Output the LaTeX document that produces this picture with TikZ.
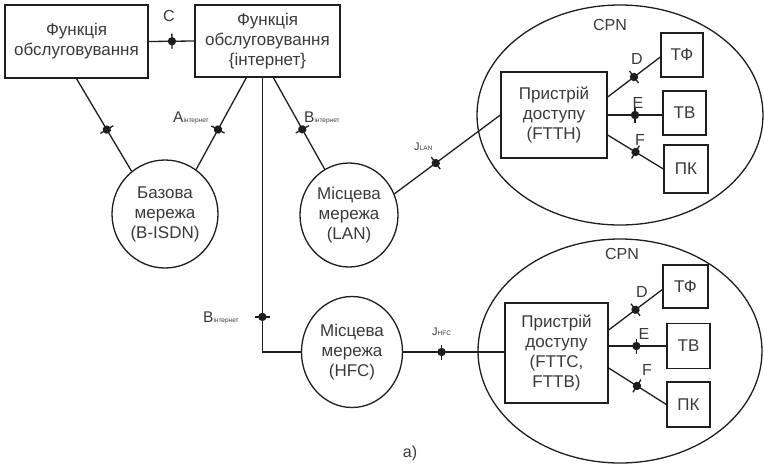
\documentclass[tikz,border=0pt]{standalone}
\usepackage{fontspec}
\setmainfont{Liberation Sans}
\usetikzlibrary{shapes.geometric,calc}
\definecolor{ink}{HTML}{1E1E1E}
\definecolor{txt}{HTML}{3A3A3A}
% letter with a small index set on the same baseline
\newcommand\withsub[2]{#1{\fontsize{6.5}{6.5}\selectfont #2}}

\begin{document}
\begin{tikzpicture}[x=1pt,y=-1pt,
  every node/.style={text=txt},
  wire/.style={draw=ink, line width=1.3pt},
  box/.style={draw=ink, line width=1.3pt, rectangle, inner sep=0pt, align=center,
    font=\fontsize{17}{20}\selectfont},
  oval/.style={draw=ink, line width=1.3pt, ellipse, inner sep=0pt, align=center,
    font=\fontsize{17}{20}\selectfont},
  lbl/.style={inner sep=0pt, font=\fontsize{16}{16}\selectfont},
  sublbl/.style={inner sep=0pt, anchor=base west, font=\fontsize{15.5}{15.5}\selectfont},
  jn/.pic={
    \fill[ink] (0,0) circle (4.2pt);
    \draw[ink, line width=1.3pt] (0,-7.5pt) -- (0,7.5pt);
  },
]
\useasboundingbox (0,0) rectangle (764,467);

% service functions
\node[box, minimum width=143pt, minimum height=73pt] (f1) at (76.5,41.5) {Функція\\обслуговування};
\node[box, minimum width=145pt, minimum height=72pt] (f2) at (267.5,41) {Функція\\обслуговування\\\{інтернет\}};

% networks
\node[oval, minimum width=106pt, minimum height=108pt] (base) at (165,214) {Базова\\мережа\\(B-ISDN)};
\node[oval, minimum width=98pt, minimum height=104pt] (lan) at (349,215) {Місцева\\мережа\\(LAN)};
\node[oval, minimum width=101pt, minimum height=111pt] (hfc) at (352,352) {Місцева\\мережа\\(HFC)};

% customer premises networks
\node[oval, minimum width=286pt, minimum height=220pt] (cpn1) at (620,115) {};
\node[oval, minimum width=284pt, minimum height=224pt] (cpn2) at (620,351) {};
\node[lbl] (cpnl1) at (610,25) {CPN};
\node[lbl] (cpnl2) at (622,254) {CPN};

% access devices
\node[box, fill=white, minimum width=106pt, minimum height=86pt] (acc1) at (554,115) {Пристрій\\доступу\\(FTTH)};
\node[box, fill=white, minimum width=103pt, minimum height=100pt] (acc2) at (556.5,353) {Пристрій\\доступу\\(FTTC,\\FTTB)};

% terminals
\node[box, minimum width=42pt, minimum height=44pt] (tf1) at (682,55) {ТФ};
\node[box, minimum width=43pt, minimum height=44pt] (tv1) at (684.5,113) {ТВ};
\node[box, minimum width=44pt, minimum height=48pt] (pk1) at (686,169) {ПК};
\node[box, minimum width=45pt, minimum height=43pt] (tf2) at (685.5,286.5) {ТФ};
\node[box, minimum width=43pt, minimum height=45pt] (tv2) at (688.5,346) {ТВ};
\node[box, minimum width=43pt, minimum height=45pt] (pk2) at (688.5,404.5) {ПК};

% connections with reference points
\draw[wire] (f1.east) -- pic[pos=0.51, sloped]{jn} (f2.west);
\draw[wire] (f1.south) -- pic[pos=0.55, sloped]{jn} (base.128);
\draw[wire] ($(f2.south west)+(52,0)$) -- pic[pos=0.565, sloped]{jn} (base.55);
\draw[wire] ($(f2.south west)+(79,0)$) -- pic[pos=0.565, sloped]{jn} (lan.118);
\draw[wire] ($(f2.south west)+(68,0)$) |- pic[pos=0.436, sloped]{jn} (hfc.west);
\draw[wire] (lan.25) -- pic[pos=0.39, sloped]{jn} (acc1.west);
\draw[wire] (hfc.east) -- pic[pos=0.38, sloped]{jn} (hfc.east -| acc2.west);

\draw[wire] ($(acc1.east)+(0,-18)$) -- pic[pos=0.5, sloped]{jn} ($(tf1.west)+(0,2)$);
\draw[wire] (acc1.east) -- pic[pos=0.5, sloped]{jn} (acc1.east -| tv1.west);
\draw[wire] ($(acc1.east)+(0,20)$) -- pic[pos=0.5, sloped]{jn} (pk1.west);
\draw[wire] ($(acc2.east)+(0,-23)$) -- pic[pos=0.5, sloped]{jn} ($(tf2.west)+(0,3)$);
\draw[wire] (acc2.east |- tv2.west) -- pic[pos=0.48, sloped]{jn} (tv2.west);
\draw[wire] ($(acc2.east)+(0,15)$) -- pic[pos=0.49, sloped]{jn} (pk2.west);

% reference point labels
\node[lbl] (lC) at (169,16) {C};
\node[sublbl] (lA) at (173,122) {\withsub{A}{інтернет}};
\node[sublbl] (lB1) at (304,122) {\withsub{B}{інтернет}};
\node[sublbl] (lB2) at (203,322) {\withsub{B}{інтернет}};
\node[sublbl, font=\fontsize{11}{11}\selectfont] (lJ1) at (414,150) {\withsub{J}{LAN}};
\node[sublbl, font=\fontsize{11}{11}\selectfont] (lJ2) at (432,335) {\withsub{J}{HFC}};
\node[lbl] (lD1) at (637,59) {D};
\node[lbl] (lE1) at (638,103) {E};
\node[lbl] (lF1) at (640,140) {F};
\node[lbl] (lD2) at (642,292) {D};
\node[lbl] (lE2) at (644,334) {E};
\node[lbl] (lF2) at (647,370) {F};
\node[lbl] (cap) at (410,453) {а)};
\end{tikzpicture}
\end{document}
